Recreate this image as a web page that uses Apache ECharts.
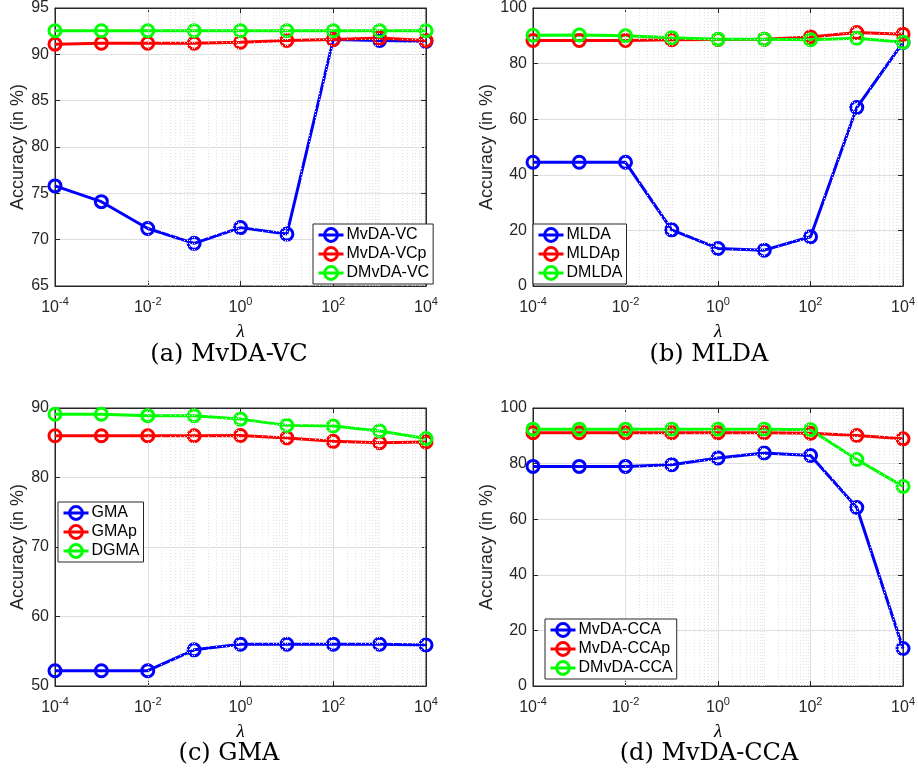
<!DOCTYPE html>
<html>
<head>
<meta charset="utf-8">
<script src="https://cdn.jsdelivr.net/npm/echarts@6/dist/echarts.min.js"></script>
<style>
html,body{margin:0;padding:0;background:#fff;}
#chart{width:918px;height:783px;}
</style>
</head>
<body>
<div id="chart"></div>
<script>
// ---- data ----
const lambdas = [1e-4, 1e-3, 1e-2, 1e-1, 1, 10, 100, 1000, 1e4];

const namesA = ['MvDA-VC', 'MvDA-VCp', 'DMvDA-VC'];
const a_MvDA_VC  = [75.8, 74.1, 71.2, 69.6, 71.3, 70.6, 91.6, 91.5, 91.4];
const a_MvDA_VCp = [91.1, 91.2, 91.2, 91.2, 91.3, 91.5, 91.6, 91.75, 91.5];
const a_DMvDA_VC = [92.55, 92.55, 92.55, 92.55, 92.55, 92.55, 92.55, 92.55, 92.55];

const namesB = ['MLDA', 'MLDAp', 'DMLDA'];
const b_MLDA  = [44.5, 44.5, 44.5, 20.2, 13.5, 12.9, 17.7, 64.2, 87.6];
const b_MLDAp = [88.3, 88.3, 88.3, 88.6, 88.7, 88.8, 89.6, 91.2, 90.6];
const b_DMLDA = [90.2, 90.3, 90.0, 89.3, 88.8, 88.8, 88.6, 89.1, 87.7];

const namesC = ['GMA', 'GMAp', 'DGMA'];
const c_GMA  = [52.2, 52.2, 52.2, 55.2, 56.0, 56.0, 56.0, 56.0, 55.9];
const c_GMAp = [86.0, 86.0, 86.0, 86.0, 86.05, 85.7, 85.2, 85.0, 85.1];
const c_DGMA = [89.1, 89.1, 88.9, 88.9, 88.4, 87.5, 87.4, 86.7, 85.6];

const namesD = ['MvDA-CCA', 'MvDA-CCAp', 'DMvDA-CCA'];
const d_MvDA_CCA  = [79.0, 79.0, 79.0, 79.6, 82.0, 83.8, 82.9, 64.2, 13.5];
const d_MvDA_CCAp = [91.1, 91.1, 91.1, 91.1, 91.1, 91.1, 90.9, 90.1, 88.9];
const d_DMvDA_CCA = [92.4, 92.4, 92.4, 92.4, 92.4, 92.4, 92.2, 81.5, 71.8];

const yRanges = [[65, 95, 5], [0, 100, 20], [50, 90, 10], [0, 100, 20]];
const captions = ['(a) MvDA-VC', '(b) MLDA', '(c) GMA', '(d) MvDA-CCA'];
const yLabel = 'Accuracy (in %)';
const xLabel = 'λ';

// ---- layout / style ----
const colors = ['#0000ff', '#ff0000', '#00ff00'];
const panels = [
  {names: namesA, data: [a_MvDA_VC, a_MvDA_VCp, a_DMvDA_VC], grid: {left: 55, top: 8}, legend: {left: 313, top: 224}, nameGap: 28, cap: [229, 355]},
  {names: namesB, data: [b_MLDA, b_MLDAp, b_DMLDA], grid: {left: 533, top: 8}, legend: {left: 533, top: 224}, nameGap: 37, cap: [709, 355]},
  {names: namesC, data: [c_GMA, c_GMAp, c_DGMA], grid: {left: 55, top: 408}, legend: {left: 58, top: 502}, nameGap: 28, cap: [229, 754]},
  {names: namesD, data: [d_MvDA_CCA, d_MvDA_CCAp, d_DMvDA_CCA], grid: {left: 533, top: 408}, legend: {left: 545, top: 619}, nameGap: 37, cap: [709, 754]}
];
const W = 371, H = 278;
const axisColor = '#262626';
const sans = 'Liberation Sans, Arial, Helvetica, sans-serif';

// minor (dotted) vertical grid positions of the log axis
const minorX = [];
for (let d = -4; d < 4; d++) {
  const base = Math.pow(10, d);
  if (d % 2 !== 0) minorX.push(base);
  for (let k = 2; k <= 9; k++) minorX.push(k * base);
}

const grids = [], xAxes = [], yAxes = [], series = [], legends = [], graphics = [];

panels.forEach((p, gi) => {
  grids.push({left: p.grid.left, top: p.grid.top, width: W, height: H, show: true,
    borderColor: axisColor, borderWidth: 1, backgroundColor: '#fff'});
  const logCommon = {type: 'log', logBase: 10, gridIndex: gi, min: 1e-4, max: 1e4, interval: 2,
    axisLine: {show: true, onZero: false, lineStyle: {color: axisColor, width: 1}},
    axisTick: {show: true, inside: true, length: 5, lineStyle: {color: axisColor}}};
  xAxes.push(Object.assign({}, logCommon, {position: 'bottom',
    name: xLabel, nameLocation: 'middle', nameGap: 36,
    nameTextStyle: {fontFamily: 'Liberation Serif, DejaVu Serif, serif', fontStyle: 'italic', fontSize: 19, color: '#000'},
    splitLine: {show: true, lineStyle: {color: '#dedede', width: 1}},
    axisLabel: {show: true, margin: 10, color: axisColor,
      formatter: v => {
        const e = Math.round(Math.log10(v));
        return '{b|10}{s|' + e + '}';
      },
      rich: {
        b: {fontSize: 16, fontFamily: sans, color: axisColor, lineHeight: 20, verticalAlign: 'bottom'},
        s: {fontSize: 11, fontFamily: sans, color: axisColor, lineHeight: 20, verticalAlign: 'top'}
      }}
  }));
  xAxes.push(Object.assign({}, logCommon, {position: 'top', axisLabel: {show: false}, splitLine: {show: false}}));
  const yr = yRanges[gi];
  const yCommon = {type: 'value', gridIndex: gi, min: yr[0], max: yr[1], interval: yr[2],
    axisLine: {show: true, onZero: false, lineStyle: {color: axisColor, width: 1}},
    axisTick: {show: true, inside: true, length: 5, lineStyle: {color: axisColor}}};
  yAxes.push(Object.assign({}, yCommon, {position: 'left',
    name: yLabel, nameLocation: 'middle', nameRotate: 90, nameGap: p.nameGap,
    nameTextStyle: {fontFamily: sans, fontSize: 18, color: axisColor},
    splitLine: {show: true, lineStyle: {color: '#dedede', width: 1}},
    axisLabel: {show: true, margin: 6, fontSize: 16, fontFamily: sans, color: axisColor}}));
  yAxes.push(Object.assign({}, yCommon, {position: 'right', axisLabel: {show: false}, splitLine: {show: false}}));

  // minor grid lines (decoration)
  series.push({type: 'line', name: '_minor' + gi, xAxisIndex: gi * 2, yAxisIndex: gi * 2, data: [],
    z: 1, silent: true, legendHoverLink: false,
    markLine: {silent: true, symbol: 'none', animation: false, label: {show: false},
      lineStyle: {color: '#e2e2e2', type: [1, 2], width: 1},
      emphasis: {disabled: true},
      data: minorX.map(v => ({xAxis: v}))}});

  p.names.forEach((nm, si) => {
    const vals = p.data[si];
    series.push({type: 'line', name: nm, xAxisIndex: gi * 2, yAxisIndex: gi * 2,
      data: lambdas.map((x, i) => [x, vals[i]]),
      symbol: 'circle', symbolSize: 12, showAllSymbol: true,
      lineStyle: {color: colors[si], width: 3},
      itemStyle: {color: 'rgba(255,255,255,0)', borderColor: colors[si], borderWidth: 3},
      emphasis: {disabled: true}, z: 2});
  });

  legends.push({
    z: 20,
    data: p.names.map((nm, si) => ({name: nm,
      lineStyle: {color: colors[si], width: 3},
      itemStyle: {color: 'rgba(255,255,255,0)', borderColor: colors[si], borderWidth: 3}})),
    left: p.legend.left, top: p.legend.top, orient: 'vertical',
    backgroundColor: '#fff', borderColor: axisColor, borderWidth: 1,
    padding: [3, 4, 3, 4], itemGap: 3, itemWidth: 25, itemHeight: 16,
    textStyle: {fontFamily: sans, fontSize: 16, color: '#000', padding: [0, 0, 0, -2]},
    selectedMode: false});

  graphics.push({type: 'text', x: p.cap[0], y: p.cap[1],
    style: {text: captions[gi], font: '24px "DejaVu Serif", "Liberation Serif", serif',
      fill: '#000', textAlign: 'center', textVerticalAlign: 'middle'}});
});

const chart = echarts.init(document.getElementById('chart'), null, {renderer: 'canvas'});
chart.setOption({
  animation: false,
  backgroundColor: '#fff',
  grid: grids, xAxis: xAxes, yAxis: yAxes, series: series, legend: legends,
  graphic: graphics,
  tooltip: {show: false}
});
</script>
</body>
</html>
